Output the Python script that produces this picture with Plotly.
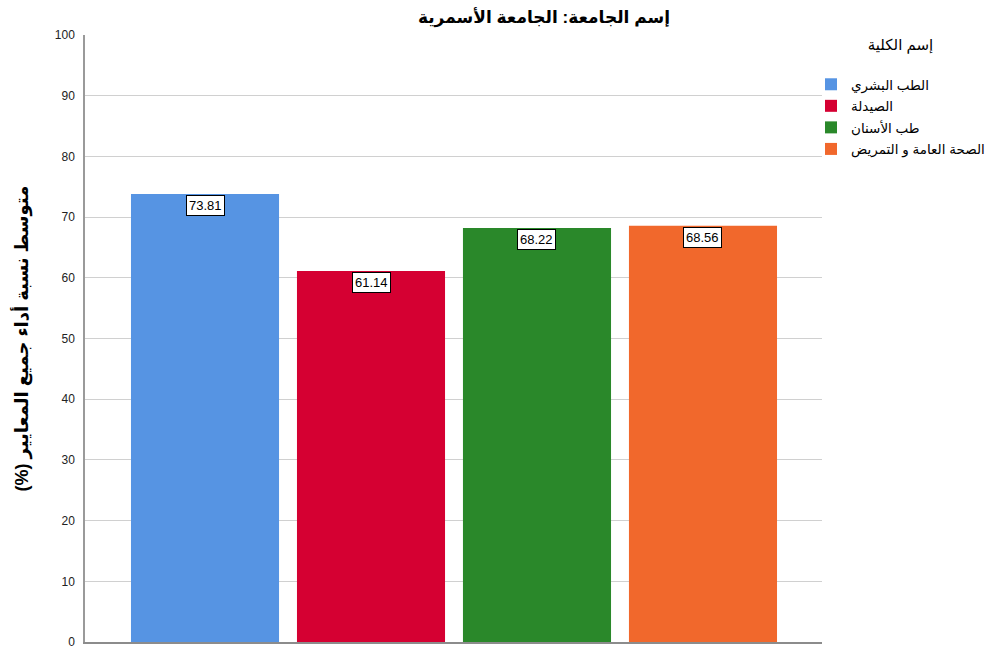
import plotly.graph_objects as go

faculties = ["الطب البشري", "الصيدلة", "طب الأسنان", "الصحة العامة و التمريض"]
values = [73.81, 61.14, 68.22, 68.56]
colors = ["#5694E3", "#D50032", "#2A882A", "#F1682C"]
title_text = "إسم الجامعة: الجامعة الأسمرية"
y_title = "متوسط نسبة أداء جميع المعايير (%)"
legend_title = "إسم الكلية"
y_ticks = list(range(0, 101, 10))

FONT = "Arial, Liberation Sans, DejaVu Sans, sans-serif"
RLM = "\u200f"

fig = go.Figure()
for name, v, c in zip(faculties, values, colors):
    fig.add_trace(go.Bar(
        x=[name], y=[v], name=name, marker=dict(color=c, line=dict(width=0)),
        legendgroup=name, showlegend=True,
    ))
    fig.add_annotation(
        x=name, y=v, text=f"{v:.2f}", showarrow=False, yanchor="top", yshift=-1,
        font=dict(family=FONT, size=13, color="#000"),
        bgcolor="white", bordercolor="black", borderwidth=1, borderpad=2,
    )

fig.add_annotation(
    x=-0.0855, xref="paper", y=0.5, yref="paper", text=f"<b>{RLM}{y_title}{RLM}</b>",
    textangle=-90, showarrow=False, xanchor="center", yanchor="middle",
    font=dict(family=FONT, size=18, color="#000"),
)

fig.update_layout(
    width=987, height=651,
    margin=dict(l=85, r=165, t=35, b=9, autoexpand=False),
    paper_bgcolor="white", plot_bgcolor="white",
    barmode="overlay", bargap=0.108,
    title=dict(text=f"<b>{title_text}</b>", x=544 / 987, xref="container",
               xanchor="center", y=1 - 17 / 651, yref="container", yanchor="middle",
               font=dict(family=FONT, size=17, color="#000")),
    font=dict(family=FONT, size=12, color="#000"),
    legend=dict(
        title=dict(text=f"{legend_title}<br> ", side="top center",
                   font=dict(family=FONT, size=15, color="#000")),
        x=(811 - 85) / 737, xanchor="left", y=1 + 5 / 607, yanchor="top",
        itemwidth=30, tracegroupgap=1, traceorder="grouped",
        font=dict(family=FONT, size=13.5, color="#000"),
        bgcolor="rgba(0,0,0,0)",
    ),
    showlegend=True,
)
fig.update_xaxes(range=[-0.723, 3.717], showticklabels=False, showgrid=False,
                 showline=True, linecolor="#8C8C8C", linewidth=2, zeroline=False,
                 fixedrange=True)
fig.update_yaxes(range=[0, 100], tickvals=y_ticks, showgrid=True, gridcolor="#D0D0D0",
                 gridwidth=1, showline=True, linecolor="#9A9A9A", linewidth=1.5,
                 zeroline=False, ticks="", ticklabelstandoff=6,
                 tickfont=dict(family=FONT, size=12, color="#222"))

fig.write_html("out.html", config={"displayModeBar": False},
               post_script="document.body.style.margin='0';")
